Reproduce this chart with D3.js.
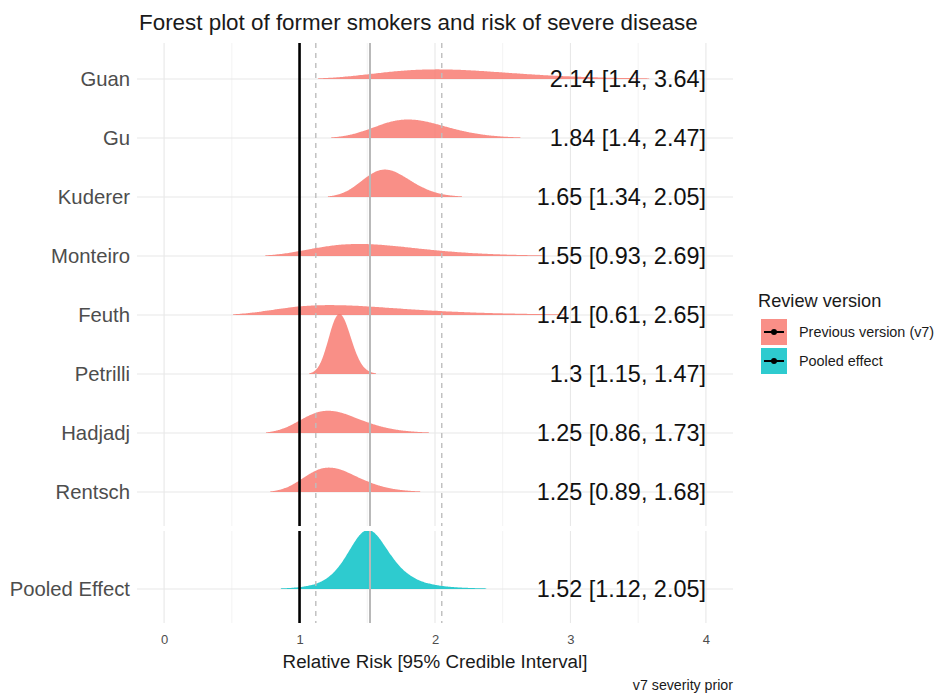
<!DOCTYPE html>
<html>
<head>
<meta charset="utf-8">
<script src="https://cdn.jsdelivr.net/npm/d3@7"></script>
<style>
  body { margin: 0; background: #fff; }
  text { font-family: "Liberation Sans", Arial, Helvetica, sans-serif; }
</style>
</head>
<body>
<svg id="chart" width="937" height="693"></svg>
<script>
// Study-level posterior summaries (relative risk, median and 95% credible interval)
const studies   = ["Guan", "Gu", "Kuderer", "Monteiro", "Feuth", "Petrilli", "Hadjadj", "Rentsch"];
const estimates = [2.14, 1.84, 1.65, 1.55, 1.41, 1.30, 1.25, 1.25];
const lowers    = [1.4, 1.4, 1.34, 0.93, 0.61, 1.15, 0.86, 0.89];
const uppers    = [3.64, 2.47, 2.05, 2.69, 2.65, 1.47, 1.73, 1.68];

// Pooled estimate (heavier-tailed posterior: Student-t on the log scale)
const pooledNames     = ["Pooled Effect"];
const pooledEstimates = [1.52];
const pooledLowers    = [1.12];
const pooledUppers    = [2.05];
const pooledDf        = 4;

const xTicks = [0, 1, 2, 3, 4];
const nullEffect = 1;

const legendTitle = "Review version";
const legendLabels = ["Previous version (v7)", "Pooled effect"];
const colours = ["#F8766D", "#00BFC4"];

const svg = d3.select("#chart");

// Panel geometry
const panelLeft = 137, panelRight = 733;
const topPanel = { y0: 43, y1: 526 };
const botPanel = { y0: 531, y1: 623 };

const x = d3.scaleLinear().domain([-0.2, 4.2]).range([panelLeft, panelRight]);
const yTop = d3.scalePoint().domain(studies).range([79, 492]);
const yBot = d3.scalePoint().domain(pooledNames).range([589, 589]);

// 97.5% quantiles of Student-t used to turn an interval into a scale
const tQuantile975 = { 3: 3.182, 4: 2.776, 5: 2.571, 10: 2.228, Infinity: 1.959964 };

// Log-scale location/scale density for a relative risk, from median and 95% interval
function densityCurve(med, lo, hi, df = Infinity) {
  const mu = Math.log(med);
  const s = (Math.log(hi) - Math.log(lo)) / (2 * tQuantile975[df]);
  const kernel = z => isFinite(df)
    ? Math.pow(1 + z * z / df, -(df + 1) / 2)
    : Math.exp(-0.5 * z * z);
  const span = isFinite(df) ? 7 : 4;
  const a = Math.exp(mu - span * s), b = Math.exp(mu + span * s);
  const n = 400;
  const pts = [];
  for (let i = 0; i <= n; i++) {
    const v = a + (b - a) * i / n;
    const z = (Math.log(v) - mu) / s;
    pts.push({ v, d: kernel(z) / (v * s) });
  }
  return pts;
}

const topCurves = studies.map((s, i) => ({ name: s, pts: densityCurve(estimates[i], lowers[i], uppers[i]) }));
const botCurves = pooledNames.map((s, i) => ({ name: s, pts: densityCurve(pooledEstimates[i], pooledLowers[i], pooledUppers[i], pooledDf) }));

const topMax = d3.max(topCurves, c => d3.max(c.pts, p => p.d));
const botMax = d3.max(botCurves, c => d3.max(c.pts, p => p.d));
const hTop = d3.scaleLinear().domain([0, topMax]).range([0, 60]);
const hBot = d3.scaleLinear().domain([0, botMax]).range([0, 59]);

// Trim tails below 1% of the facet's tallest ridge
const relMin = 0.01;
topCurves.forEach(c => { c.pts = c.pts.filter(p => p.d >= relMin * topMax); });
botCurves.forEach(c => { c.pts = c.pts.filter(p => p.d >= relMin * botMax); });

// Clip paths for the two facets
const defs = svg.append("defs");
[["clipTop", topPanel], ["clipBot", botPanel]].forEach(([id, p]) => {
  defs.append("clipPath").attr("id", id)
    .append("rect").attr("x", panelLeft).attr("y", p.y0)
    .attr("width", panelRight - panelLeft).attr("height", p.y1 - p.y0);
});

function drawPanel(p, yScale, names, curves, hScale, fill, clipId) {
  const g = svg.append("g");
  // minor grid
  d3.range(0.5, 4.01, 1).forEach(v => {
    g.append("line").attr("x1", x(v)).attr("x2", x(v)).attr("y1", p.y0).attr("y2", p.y1)
      .attr("stroke", "#f3f3f3").attr("stroke-width", 1);
  });
  // major grid
  xTicks.forEach(v => {
    g.append("line").attr("x1", x(v)).attr("x2", x(v)).attr("y1", p.y0).attr("y2", p.y1)
      .attr("stroke", "#e8e8e8").attr("stroke-width", 1.1);
  });
  names.forEach(n => {
    g.append("line").attr("x1", panelLeft).attr("x2", panelRight)
      .attr("y1", yScale(n)).attr("y2", yScale(n))
      .attr("stroke", "#e8e8e8").attr("stroke-width", 1.1);
  });

  // density ridges
  const dg = svg.append("g").attr("clip-path", `url(#${clipId})`);
  curves.forEach(c => {
    const base = yScale(c.name);
    const area = d3.area()
      .x(pt => x(pt.v))
      .y0(base)
      .y1(pt => base - hScale(pt.d))
      .curve(d3.curveBasis);
    dg.append("path").datum(c.pts).attr("d", area)
      .attr("fill", fill).attr("fill-opacity", 0.82);
  });

  // reference lines
  const lg = svg.append("g");
  [pooledLowers[0], pooledUppers[0]].forEach(v => {
    lg.append("line").attr("x1", x(v)).attr("x2", x(v)).attr("y1", p.y0).attr("y2", p.y1)
      .attr("stroke", "#bdbdbd").attr("stroke-width", 1.4).attr("stroke-dasharray", "5,5");
  });
  lg.append("line").attr("x1", x(pooledEstimates[0])).attr("x2", x(pooledEstimates[0]))
    .attr("y1", p.y0).attr("y2", p.y1).attr("stroke", "#b8b8b8").attr("stroke-width", 2);
  lg.append("line").attr("x1", x(nullEffect)).attr("x2", x(nullEffect))
    .attr("y1", p.y0).attr("y2", p.y1).attr("stroke", "#000").attr("stroke-width", 2.6);
}

drawPanel(topPanel, yTop, studies, topCurves, hTop, colours[0], "clipTop");
drawPanel(botPanel, yBot, pooledNames, botCurves, hBot, colours[1], "clipBot");

// Value labels, right-aligned at the last tick
const fmt = v => String(+v.toFixed(2));
const labelG = svg.append("g");
studies.forEach((s, i) => {
  labelG.append("text").attr("x", x(4)).attr("y", yTop(s))
    .attr("dy", "0.36em").attr("text-anchor", "end")
    .attr("font-size", 23.4).attr("fill", "#111")
    .text(`${fmt(estimates[i])} [${fmt(lowers[i])}, ${fmt(uppers[i])}]`);
});
pooledNames.forEach((s, i) => {
  labelG.append("text").attr("x", x(4)).attr("y", yBot(s))
    .attr("dy", "0.36em").attr("text-anchor", "end")
    .attr("font-size", 23.4).attr("fill", "#111")
    .text(`${fmt(pooledEstimates[i])} [${fmt(pooledLowers[i])}, ${fmt(pooledUppers[i])}]`);
});

// Y axis labels
[yTop, yBot].forEach(sc => {
  const g = svg.append("g").attr("transform", `translate(${panelLeft},0)`)
    .call(d3.axisLeft(sc).tickSize(0).tickPadding(7));
  g.select(".domain").remove();
  g.selectAll("text").attr("font-size", 20.3).attr("fill", "#4d4d4d")
    .attr("font-family", "'Liberation Sans', Arial, sans-serif");
});

// X axis
const xAxis = d3.axisBottom(x).tickValues(xTicks).tickSize(0).tickPadding(12).tickFormat(d3.format("d"));
const xg = svg.append("g").attr("transform", `translate(0,${botPanel.y1})`).call(xAxis);
xg.select(".domain").remove();
xg.selectAll("text").attr("font-size", 13).attr("fill", "#4d4d4d")
  .attr("font-family", "'Liberation Sans', Arial, sans-serif");

// Titles
svg.append("text").attr("x", 139).attr("y", 30)
  .attr("font-size", 22.4).attr("fill", "#1a1a1a")
  .text("Forest plot of former smokers and risk of severe disease");

svg.append("text").attr("x", (panelLeft + panelRight) / 2).attr("y", 668)
  .attr("text-anchor", "middle").attr("font-size", 18.8).attr("fill", "#1a1a1a")
  .text("Relative Risk [95% Credible Interval]");

svg.append("text").attr("x", panelRight).attr("y", 690)
  .attr("text-anchor", "end").attr("font-size", 14.2).attr("fill", "#1a1a1a")
  .text("v7 severity prior");

// Legend
const lgd = svg.append("g").attr("transform", "translate(758,0)");
lgd.append("text").attr("x", 0).attr("y", 307).attr("font-size", 18.2).attr("fill", "#1a1a1a")
  .text(legendTitle);
legendLabels.forEach((lab, i) => {
  const y0 = 319 + i * 29;
  lgd.append("rect").attr("x", 3).attr("y", y0).attr("width", 26).attr("height", 26)
    .attr("fill", colours[i]).attr("fill-opacity", 0.82);
  lgd.append("line").attr("x1", 6).attr("x2", 26).attr("y1", y0 + 13).attr("y2", y0 + 13)
    .attr("stroke", "#000").attr("stroke-width", 2);
  lgd.append("circle").attr("cx", 16).attr("cy", y0 + 13).attr("r", 3).attr("fill", "#000");
  lgd.append("text").attr("x", 41).attr("y", y0 + 13).attr("dy", "0.36em")
    .attr("font-size", 14.4).attr("fill", "#1a1a1a").text(lab);
});
</script>
</body>
</html>
